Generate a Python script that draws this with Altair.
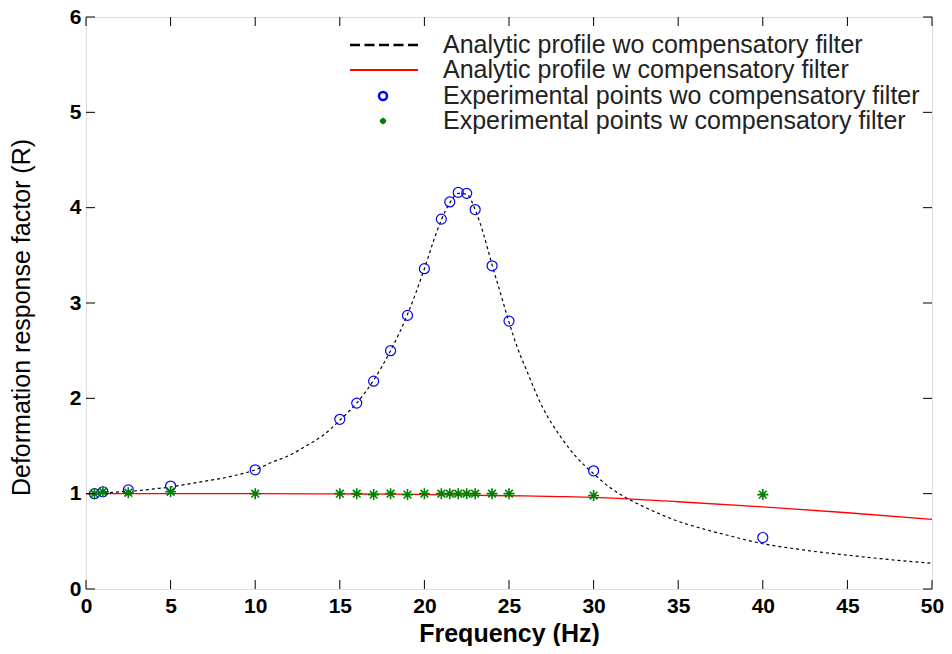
import altair as alt
import pandas as pd

# ---- data ----
freq_exp = [0.5, 1, 2.5, 5, 10, 15, 16, 17, 18, 19, 20, 21, 21.5, 22, 22.5, 23, 24, 25, 30, 40]
r_exp_wo = [1.0, 1.02, 1.04, 1.08, 1.25, 1.78, 1.95, 2.18, 2.50, 2.87, 3.36, 3.88, 4.06, 4.16,
            4.15, 3.98, 3.39, 2.81, 1.24, 0.54]
r_exp_w = [1.0, 1.02, 1.01, 1.02, 1.0, 1.0, 1.0, 0.99, 1.0, 0.99, 1.0, 1.0, 1.0, 1.0,
           1.0, 1.0, 1.0, 1.0, 0.98, 0.99]

freq_curve_wo = [0, 1, 2, 3, 4, 5, 6, 7, 8, 9, 10, 11, 12, 13, 14, 15, 16, 17, 18, 19, 20,
                 20.5, 21, 21.5, 22, 22.5, 23, 23.5, 24, 24.5, 25, 25.5, 26, 27, 28, 29, 30,
                 31, 32, 33, 34, 35, 36, 37, 38, 39, 40, 41, 42, 43, 44, 45, 46, 47, 48, 49, 50]
r_curve_wo = [1.00, 1.005, 1.02, 1.03, 1.05, 1.07, 1.10, 1.13, 1.16, 1.20, 1.25, 1.33, 1.40,
              1.50, 1.61, 1.77, 1.95, 2.19, 2.50, 2.88, 3.36, 3.63, 3.87, 4.05, 4.15, 4.14,
              3.98, 3.72, 3.40, 3.10, 2.80, 2.53, 2.31, 1.90, 1.61, 1.38, 1.21, 1.06, 0.95,
              0.86, 0.78, 0.71, 0.655, 0.605, 0.56, 0.515, 0.475, 0.445, 0.42, 0.395, 0.375,
              0.355, 0.335, 0.318, 0.30, 0.285, 0.27]

freq_curve_w = [0, 5, 10, 15, 18, 20, 25, 28, 30, 35, 40, 45, 50]
r_curve_w = [1.0, 1.0, 1.0, 0.997, 0.995, 0.99, 0.978, 0.97, 0.962, 0.915, 0.862, 0.80, 0.73]

x_ticks = [0, 5, 10, 15, 20, 25, 30, 35, 40, 45, 50]
y_ticks = [0, 1, 2, 3, 4, 5, 6]

legend_labels = [
    "Analytic profile wo compensatory filter",
    "Analytic profile w compensatory filter",
    "Experimental points wo compensatory filter",
    "Experimental points w compensatory filter",
]

W, H = 846, 572
FONT = "Liberation Sans"
STAR = "M0,-1L0,1M-1,0L1,0M-0.7,-0.7L0.7,0.7M-0.7,0.7L0.7,-0.7"

exp_df = pd.DataFrame({"f": freq_exp, "wo": r_exp_wo, "w": r_exp_w})
wo_df = pd.DataFrame({"f": freq_curve_wo, "r": r_curve_wo})
w_df = pd.DataFrame({"f": freq_curve_w, "r": r_curve_w})
xt_df = pd.DataFrame({"t": x_ticks})
yt_df = pd.DataFrame({"t": y_ticks})
dummy = pd.DataFrame({"a": [0]})

xscale = alt.Scale(domain=[0, 50], nice=False, zero=False)
yscale = alt.Scale(domain=[0, 6], nice=False, zero=False)

xaxis = alt.Axis(values=x_ticks, format="d", labelFont=FONT, labelFontSize=21,
                 labelFontWeight="bold", labelColor="black", ticks=False, domain=False,
                 grid=False, labelPadding=6, labelFlush=False, title="Frequency (Hz)",
                 titleFont=FONT, titleFontSize=25, titleFontWeight="bold", titleColor="black",
                 titleY=52, titleBaseline="alphabetic")
yaxis = alt.Axis(values=y_ticks, format="d", labelFont=FONT, labelFontSize=21,
                 labelFontWeight="bold", labelColor="black", ticks=False, domain=False,
                 grid=False, labelPadding=5, labelFlush=False,
                 title="Deformation response factor (R)", titleFont=FONT, titleFontSize=25,
                 titleFontWeight="normal", titleColor="black", titleX=-57, titleY=300,
                 titleBaseline="alphabetic", titleAlign="center")

red_line = alt.Chart(w_df).mark_line(color="#ff0000", strokeWidth=1.3, interpolate="monotone").encode(
    x=alt.X("f:Q", scale=xscale, axis=xaxis),
    y=alt.Y("r:Q", scale=yscale, axis=yaxis),
)
black_line = alt.Chart(wo_df).mark_line(color="black", strokeWidth=1.2, strokeDash=[3, 3],
                                         interpolate="monotone").encode(
    x=alt.X("f:Q", scale=xscale), y=alt.Y("r:Q", scale=yscale))
circles = alt.Chart(exp_df).mark_point(shape="circle", filled=False, color="#0000ff",
                                       size=100, strokeWidth=1.2, opacity=1).encode(
    x=alt.X("f:Q", scale=xscale), y=alt.Y("wo:Q", scale=yscale))
stars = alt.Chart(exp_df).mark_point(shape=STAR, filled=False, color="#008000",
                                     size=121, strokeWidth=1.6, opacity=1).encode(
    x=alt.X("f:Q", scale=xscale), y=alt.Y("w:Q", scale=yscale))

tick_len = 9
ticks = [
    alt.Chart(xt_df).mark_rule(color="black", strokeWidth=1).encode(
        x=alt.X("t:Q", scale=xscale), y=alt.value(H), y2=alt.value(H - tick_len)),
    alt.Chart(xt_df).mark_rule(color="black", strokeWidth=1).encode(
        x=alt.X("t:Q", scale=xscale), y=alt.value(0), y2=alt.value(tick_len)),
    alt.Chart(yt_df).mark_rule(color="black", strokeWidth=1).encode(
        y=alt.Y("t:Q", scale=yscale), x=alt.value(0), x2=alt.value(tick_len)),
    alt.Chart(yt_df).mark_rule(color="black", strokeWidth=1).encode(
        y=alt.Y("t:Q", scale=yscale), x=alt.value(W), x2=alt.value(W - tick_len)),
]

# ---- legend (manual, top right) ----
row_y = [28, 53, 79, 104]
lx1, lx2, lsym, ltext = 264, 332, 297, 357
legend = [
    alt.Chart(dummy).mark_rule(color="black", strokeWidth=2.5, strokeDash=[10, 4.5]).encode(
        x=alt.value(lx1), x2=alt.value(lx2), y=alt.value(row_y[0])),
    alt.Chart(dummy).mark_rule(color="#ff0000", strokeWidth=2.2).encode(
        x=alt.value(lx1), x2=alt.value(lx2), y=alt.value(row_y[1])),
    alt.Chart(dummy).mark_point(shape="circle", filled=False, color="#0000ff", size=64,
                                strokeWidth=2.5, opacity=1).encode(
        x=alt.value(lsym), y=alt.value(row_y[2])),
    alt.Chart(dummy).mark_point(shape=STAR, filled=False, color="#008000", size=40,
                                strokeWidth=1.8, opacity=1).encode(
        x=alt.value(lsym), y=alt.value(row_y[3])),
]
for lab, yy in zip(legend_labels, row_y):
    legend.append(
        alt.Chart(dummy).mark_text(align="left", baseline="middle", font=FONT, fontSize=25,
                                   color="#222222", text=lab).encode(
            x=alt.value(ltext), y=alt.value(yy)))

chart = alt.layer(red_line, black_line, circles, stars, *ticks, *legend).properties(
    width=W, height=H,
    autosize=alt.AutoSizeParams(type="none"),
    padding={"left": 78, "top": 9, "right": 12, "bottom": 57},
).configure_view(stroke="black", strokeWidth=1).configure(background="white")

chart.save("out.html", embed_options={"renderer": "svg", "actions": False})
